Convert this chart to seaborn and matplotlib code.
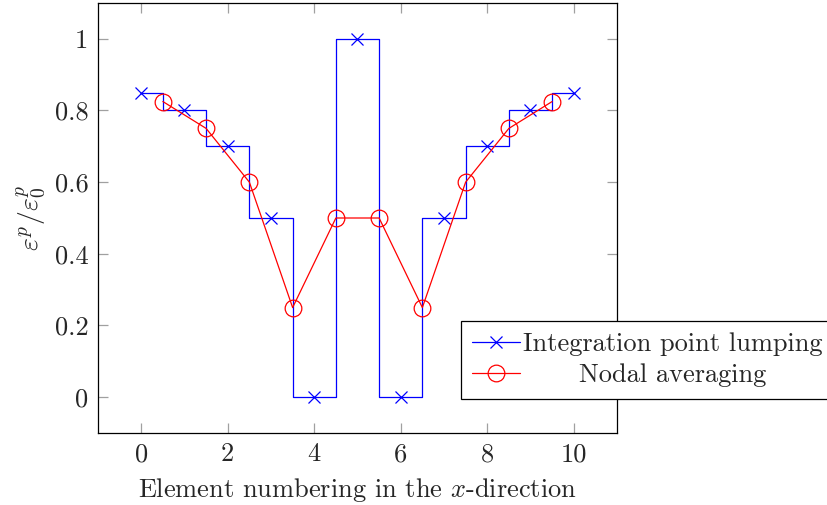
import matplotlib
matplotlib.use("Agg")
import matplotlib.pyplot as plt
import seaborn as sns
import pandas as pd

# Data
elements = [0, 1, 2, 3, 4, 5, 6, 7, 8, 9, 10]
ip_values = [0.85, 0.8, 0.7, 0.5, 0.0, 1.0, 0.0, 0.5, 0.7, 0.8, 0.85]
nodes = [0.5, 1.5, 2.5, 3.5, 4.5, 5.5, 6.5, 7.5, 8.5, 9.5]
nodal_values = [0.825, 0.75, 0.6, 0.25, 0.5, 0.5, 0.25, 0.6, 0.75, 0.825]
xticks = [0, 2, 4, 6, 8, 10]
yticks = [0, 0.2, 0.4, 0.6, 0.8, 1]
ytick_labels = ["0", "0.2", "0.4", "0.6", "0.8", "1"]

FS = 19

sns.set_style("white")
plt.rcParams["font.family"] = ["cmr10", "DejaVu Serif"]
plt.rcParams["mathtext.fontset"] = "cm"
plt.rcParams["axes.formatter.use_mathtext"] = True
plt.rcParams["font.size"] = FS

fig = plt.figure(figsize=(8.28, 5.05), dpi=100)
ax = fig.add_axes([98 / 828, 1 - 433 / 505, (617 - 98) / 828, (433 - 3) / 505])

df_ip = pd.DataFrame({"x": elements, "y": ip_values})
df_nd = pd.DataFrame({"x": nodes, "y": nodal_values})

sns.lineplot(data=df_ip, x="x", y="y", ax=ax, color="blue", drawstyle="steps-mid",
             marker="x", markersize=8, markeredgewidth=0.9, markeredgecolor="blue",
             linewidth=0.9, estimator=None, sort=False, label="Integration point lumping")
sns.lineplot(data=df_nd, x="x", y="y", ax=ax, color="red",
             marker="o", markersize=12, markerfacecolor="none", markeredgecolor="red",
             markeredgewidth=0.9, linewidth=0.9,
             estimator=None, sort=False, label="Nodal averaging")

ax.set_xlim(-1, 11)
ax.set_ylim(-0.1, 1.1)
ax.set_xticks(xticks)
ax.set_xticklabels([str(t) for t in xticks])
ax.set_yticks(yticks)
ax.set_yticklabels(ytick_labels)
ax.tick_params(direction="in", length=7, width=0.9, color="#a0a0a0",
               top=True, right=True, bottom=True, left=True, labelsize=FS, pad=7)
for s in ax.spines.values():
    s.set_color("black")
    s.set_linewidth(0.9)

ax.set_xlabel("Element numbering in the $x$-direction", fontsize=FS, labelpad=7)
ax.set_ylabel(r"$\varepsilon^p/\varepsilon^p_0$", fontsize=FS + 1, labelpad=5)

leg = ax.legend(loc="upper left", bbox_to_anchor=(461 / 828, 1 - 321 / 505),
                bbox_transform=fig.transFigure, frameon=True, fancybox=False,
                edgecolor="black", framealpha=1, fontsize=FS,
                handlelength=1.8, handletextpad=0.12, borderpad=0.42,
                labelspacing=0.3, borderaxespad=0)
leg.get_frame().set_linewidth(0.9)

# center legend texts within the column
fig.canvas.draw()
r = fig.canvas.get_renderer()
widths = [t.get_window_extent(r).width for t in leg.get_texts()]
wmax = max(widths)
for t, w in zip(leg.get_texts(), widths):
    t.set_x((wmax - w) / 2)

fig.savefig("out.png", dpi=100)
